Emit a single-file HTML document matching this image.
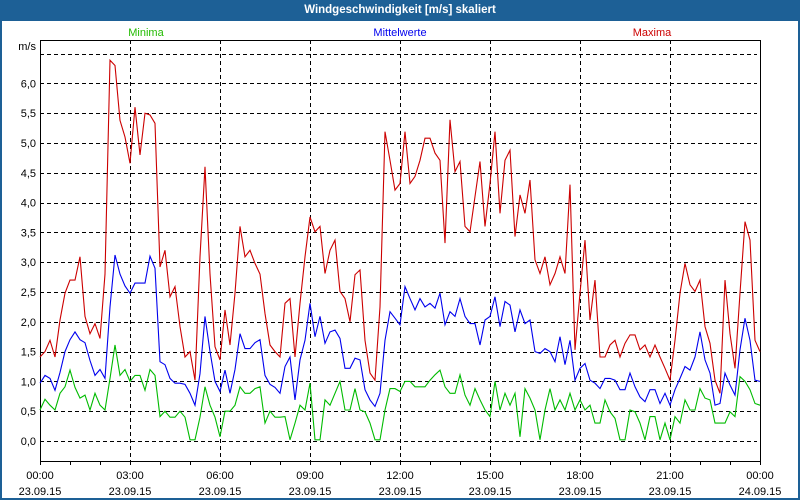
<!DOCTYPE html>
<html><head><meta charset="utf-8"><style>
html,body{margin:0;padding:0;background:#fff}
#wrap{position:relative;width:800px;height:500px;box-sizing:border-box;border:2px solid #1d6096;border-top:none;background:#fff;overflow:hidden;font-family:"Liberation Sans",sans-serif}
#title{position:absolute;left:-2px;top:0;width:800px;height:21px;background:#1d6096;color:#fff;font-weight:bold;font-size:11.5px;text-align:center;line-height:21px}
svg{position:absolute;left:-2px;top:0}
</style></head><body>
<div id="wrap">
<div id="title">Windgeschwindigkeit [m/s] skaliert</div>
<svg id="chart" width="800" height="500"></svg>
</div>
<script>
const maxima=[1.41,1.5,1.69,1.41,2.03,2.48,2.7,2.7,3.09,2.09,1.8,1.97,1.72,2.8,6.39,6.3,5.38,5.1,4.66,5.6,4.8,5.5,5.47,5.33,2.92,3.2,2.42,2.59,1.92,1.41,1.5,1.02,3.09,4.6,2.8,1.58,1.36,2.2,1.61,2.48,3.6,3.09,3.2,2.98,2.8,2.14,1.61,1.5,1.41,
2.31,2.39,1.41,2.31,3.09,3.76,3.51,3.6,2.81,3.2,3.37,2.51,2.39,2.0,2.79,2.87,1.69,1.14,1.02,2.25,5.19,4.71,4.21,4.32,5.19,4.32,4.44,4.71,5.08,5.08,4.83,4.71,3.32,5.39,4.52,4.69,3.6,3.51,4.1,4.69,3.6,4.32,5.19,3.82,4.71,4.88,3.43,4.13,
3.82,4.38,3.04,2.81,3.09,2.62,2.81,3.09,2.81,4.3,1.53,2.48,3.37,2.03,2.7,1.41,1.41,1.61,1.69,1.41,1.64,1.78,1.78,1.53,1.61,1.41,1.61,1.41,1.22,1.02,1.69,2.48,2.98,2.62,2.51,2.7,1.92,1.64,1.02,0.8,2.7,1.8,1.22,2.48,3.68,3.37,1.69,1.5];
const mittel=[0.97,1.1,1.05,0.85,1.15,1.5,1.7,1.83,1.7,1.65,1.35,1.1,1.2,1.05,2.25,3.12,2.8,2.6,2.48,2.65,2.65,2.65,3.1,2.9,1.33,1.28,1.05,0.97,0.97,0.95,0.8,0.6,1.13,2.09,1.5,1.0,0.83,1.19,0.8,1.2,1.8,1.55,1.55,1.65,1.7,1.1,0.95,0.9,0.8,
1.25,1.41,0.69,1.36,1.69,2.31,1.75,2.09,1.64,1.83,1.86,1.72,1.22,1.22,1.39,1.36,0.86,0.69,0.58,0.8,1.69,2.17,2.06,1.95,2.59,2.39,2.2,2.39,2.25,2.31,2.23,2.48,1.95,2.17,2.09,2.39,2.09,1.97,1.97,1.61,2.03,2.09,2.42,1.92,2.34,2.28,1.83,2.2,
1.97,2.03,1.5,1.47,1.55,1.5,1.33,1.75,1.28,1.69,1.02,1.22,1.3,1.02,0.97,0.88,1.05,1.05,1.02,0.86,0.86,1.14,0.91,0.74,0.66,0.86,0.86,0.63,0.8,0.6,0.86,1.05,1.25,1.19,1.41,1.83,1.36,1.14,0.6,0.63,1.14,0.94,0.77,1.53,2.06,1.69,1.02,1.0];
const minima=[0.52,0.7,0.6,0.52,0.8,0.91,1.19,0.9,0.72,0.77,0.52,0.8,0.6,0.52,1.05,1.61,1.1,1.2,1.0,1.1,1.1,0.85,1.2,1.1,0.41,0.5,0.4,0.4,0.5,0.4,0.02,0.02,0.4,0.91,0.6,0.4,0.07,0.5,0.5,0.6,0.91,0.8,0.8,0.88,0.91,0.3,0.5,0.4,0.4,
0.41,0.02,0.3,0.6,0.52,0.97,0.02,0.02,0.69,0.6,0.8,1.0,0.52,0.52,0.88,0.52,0.49,0.3,0.02,0.02,0.52,0.88,0.88,0.83,1.0,1.0,0.91,0.91,0.91,1.02,1.11,1.19,0.91,0.8,0.8,1.11,0.77,0.6,0.88,0.69,0.52,0.41,1.0,0.52,0.8,0.6,0.8,0.07,
0.88,0.72,0.52,0.02,0.52,0.88,0.52,0.69,0.52,0.8,0.52,0.69,0.52,0.6,0.3,0.3,0.69,0.49,0.38,0.02,0.02,0.52,0.49,0.3,0.02,0.41,0.41,0.02,0.3,0.02,0.41,0.3,0.69,0.52,0.52,0.88,0.72,0.69,0.3,0.3,0.3,0.49,0.41,1.08,1.0,0.86,0.63,0.6];
const yTicks=["0,0","0,5","1,0","1,5","2,0","2,5","3,0","3,5","4,0","4,5","5,0","5,5","6,0"];
const xTimes=["00:00","03:00","06:00","09:00","12:00","15:00","18:00","21:00","00:00"];
const xDates=["23.09.15","23.09.15","23.09.15","23.09.15","23.09.15","23.09.15","23.09.15","23.09.15","24.09.15"];

const L=40,R=760,T=40,B=461,Y0=441,PER=59.6;
const sx=i=>L+i*(R-L)/(maxima.length-1);
const sy=v=>Y0-v*PER;
const svg=document.getElementById('chart');
const NS='http://www.w3.org/2000/svg';
function mk(t,a){const e=document.createElementNS(NS,t);for(const k in a)e.setAttribute(k,a[k]);svg.appendChild(e);return e;}
function txt(x,y,s,c,anchor,name){const e=mk('text',{x:x,y:y,fill:c,'font-size':11,'text-anchor':anchor,'font-family':'"Liberation Sans",sans-serif'});e.textContent=s;


return e;}
for(let k=0;k<=13;k++){const y=Math.round(sy(k*0.5))+0.5;const g=mk('line',{x1:L,x2:R-3,y1:y,y2:y,stroke:'#000','stroke-dasharray':'4,3','stroke-width':1});

}
for(let k=1;k<8;k++){const x=L+k*90+0.5;const g=mk('line',{x1:x,x2:x,y1:T,y2:B,stroke:'#000','stroke-dasharray':'4,3','stroke-width':1});

}
for(let k=0;k<=24;k++){const x=L+k*30+0.5;const t=mk('line',{x1:x,x2:x,y1:B,y2:B+4,stroke:'#000'});

}
const fr=mk('rect',{x:L+0.5,y:T+0.5,width:R-L,height:B-T,fill:'none',stroke:'#000','stroke-width':1});


yTicks.forEach((s,k)=>txt(36,sy(k*0.5)+4,s,'#000','end','y-tick-label'));
txt(36,50,'m/s','#000','end','y-axis-unit');
xTimes.forEach((s,k)=>{txt(L+k*90,479,s,'#000','middle','x-tick-time');txt(L+k*90,495,xDates[k],'#000','middle','x-tick-date');});
txt(146,36,'Minima','#22bb00','middle','legend-minima');
txt(400,36,'Mittelwerte','#0000ee','middle','legend-mittelwerte');
txt(652,36,'Maxima','#cc0000','middle','legend-maxima');
function series(arr,color,name){const p=mk('polyline',{points:arr.map((v,i)=>sx(i).toFixed(1)+','+sy(v).toFixed(1)).join(' '),fill:'none',stroke:color,'stroke-width':1.1});

}
series(minima,'#00bb00','minima-line');
series(mittel,'#0000ee','mittelwerte-line');
series(maxima,'#cc0000','maxima-line');
</script>
</body></html>
